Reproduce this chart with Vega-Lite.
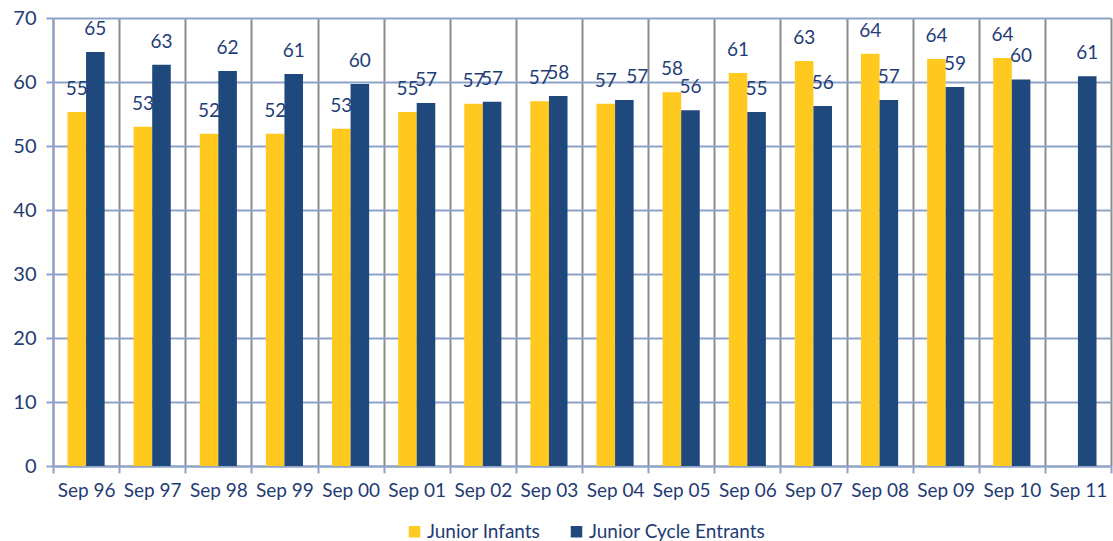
{
  "$schema": "https://vega.github.io/schema/vega-lite/v6.json",
  "width": 1058,
  "height": 448,
  "autosize": "none",
  "padding": {"left": 53, "top": 18, "right": 2, "bottom": 75},
  "background": "white",
  "config": {"view": {"stroke": null}, "font": "Lato"},
  "data": {
    "values": [
      {"period": "Sep 96", "series": "Junior Infants", "value": 55.3},
      {"period": "Sep 96", "series": "Junior Cycle Entrants", "value": 64.7},
      {"period": "Sep 97", "series": "Junior Infants", "value": 53.0},
      {"period": "Sep 97", "series": "Junior Cycle Entrants", "value": 62.7},
      {"period": "Sep 98", "series": "Junior Infants", "value": 51.9},
      {"period": "Sep 98", "series": "Junior Cycle Entrants", "value": 61.7},
      {"period": "Sep 99", "series": "Junior Infants", "value": 51.9},
      {"period": "Sep 99", "series": "Junior Cycle Entrants", "value": 61.25},
      {"period": "Sep 00", "series": "Junior Infants", "value": 52.7},
      {"period": "Sep 00", "series": "Junior Cycle Entrants", "value": 59.7},
      {"period": "Sep 01", "series": "Junior Infants", "value": 55.3},
      {"period": "Sep 01", "series": "Junior Cycle Entrants", "value": 56.7},
      {"period": "Sep 02", "series": "Junior Infants", "value": 56.6},
      {"period": "Sep 02", "series": "Junior Cycle Entrants", "value": 56.9},
      {"period": "Sep 03", "series": "Junior Infants", "value": 57.0},
      {"period": "Sep 03", "series": "Junior Cycle Entrants", "value": 57.8},
      {"period": "Sep 04", "series": "Junior Infants", "value": 56.6},
      {"period": "Sep 04", "series": "Junior Cycle Entrants", "value": 57.2},
      {"period": "Sep 05", "series": "Junior Infants", "value": 58.4},
      {"period": "Sep 05", "series": "Junior Cycle Entrants", "value": 55.6},
      {"period": "Sep 06", "series": "Junior Infants", "value": 61.4},
      {"period": "Sep 06", "series": "Junior Cycle Entrants", "value": 55.3},
      {"period": "Sep 07", "series": "Junior Infants", "value": 63.3},
      {"period": "Sep 07", "series": "Junior Cycle Entrants", "value": 56.25},
      {"period": "Sep 08", "series": "Junior Infants", "value": 64.4},
      {"period": "Sep 08", "series": "Junior Cycle Entrants", "value": 57.2},
      {"period": "Sep 09", "series": "Junior Infants", "value": 63.6},
      {"period": "Sep 09", "series": "Junior Cycle Entrants", "value": 59.2},
      {"period": "Sep 10", "series": "Junior Infants", "value": 63.75},
      {"period": "Sep 10", "series": "Junior Cycle Entrants", "value": 60.4},
      {"period": "Sep 11", "series": "Junior Cycle Entrants", "value": 60.9}
    ]
  },
  "encoding": {
    "x": {
      "field": "period",
      "type": "nominal",
      "sort": null,
      "scale": {"paddingInner": 0, "paddingOuter": 0},
      "axis": {
        "title": null,
        "tickBand": "extent",
        "grid": true,
        "gridColor": "#8C8C8C",
        "gridWidth": 2,
        "domainColor": "#8EA3C7",
        "domainWidth": 2,
        "tickColor": "#8EA3C7",
        "tickWidth": 2,
        "tickSize": 7,
        "labelFontSize": 19,
        "labelColor": "#1F3B73",
        "labelPadding": 8,
        "labelAngle": 0
      }
    },
    "xOffset": {
      "field": "series",
      "type": "nominal",
      "sort": ["Junior Infants", "Junior Cycle Entrants"],
      "scale": {"paddingInner": 0, "paddingOuter": 0.78}
    },
    "y": {
      "field": "value",
      "type": "quantitative",
      "scale": {"domain": [0, 70], "nice": false},
      "axis": {
        "title": null,
        "values": [0, 10, 20, 30, 40, 50, 60, 70],
        "grid": true,
        "gridColor": "#8EA3C7",
        "gridWidth": 2,
        "domainColor": "#8EA3C7",
        "domainWidth": 2,
        "tickColor": "#8EA3C7",
        "tickWidth": 2,
        "tickSize": 7,
        "labelFontSize": 20,
        "labelColor": "#1F3B73",
        "labelPadding": 10
      }
    }
  },
  "layer": [
    {
      "mark": {"type": "bar"},
      "encoding": {
        "color": {
          "field": "series",
          "type": "nominal",
          "sort": ["Junior Infants", "Junior Cycle Entrants"],
          "scale": {"domain": ["Junior Infants", "Junior Cycle Entrants"], "range": ["#FFC91F", "#1F497D"]},
          "legend": {
            "title": null,
            "orient": "none",
            "legendX": 352,
            "legendY": 504,
            "direction": "horizontal",
            "symbolType": "square",
            "symbolSize": 132,
            "symbolStrokeWidth": 0,
            "labelFontSize": 19,
            "labelLimit": 0,
            "labelColor": "#1F3B73",
            "labelOffset": 3,
            "columnPadding": 26
          }
        }
      }
    },
    {
      "transform": [{"filter": "!(datum.period === 'Sep 04' && datum.series === 'Junior Cycle Entrants')"}],
      "mark": {"type": "text", "dy": -23, "baseline": "middle", "align": "center", "fontSize": 19, "color": "#1F3E78"},
      "encoding": {
        "text": {"field": "value", "type": "quantitative", "format": ".0f"}
      }
    },
    {
      "transform": [{"filter": "datum.period === 'Sep 04' && datum.series === 'Junior Cycle Entrants'"}],
      "mark": {"type": "text", "dy": -23, "dx": 13, "baseline": "middle", "align": "center", "fontSize": 19, "color": "#1F3E78"},
      "encoding": {
        "text": {"field": "value", "type": "quantitative", "format": ".0f"}
      }
    }
  ]
}
